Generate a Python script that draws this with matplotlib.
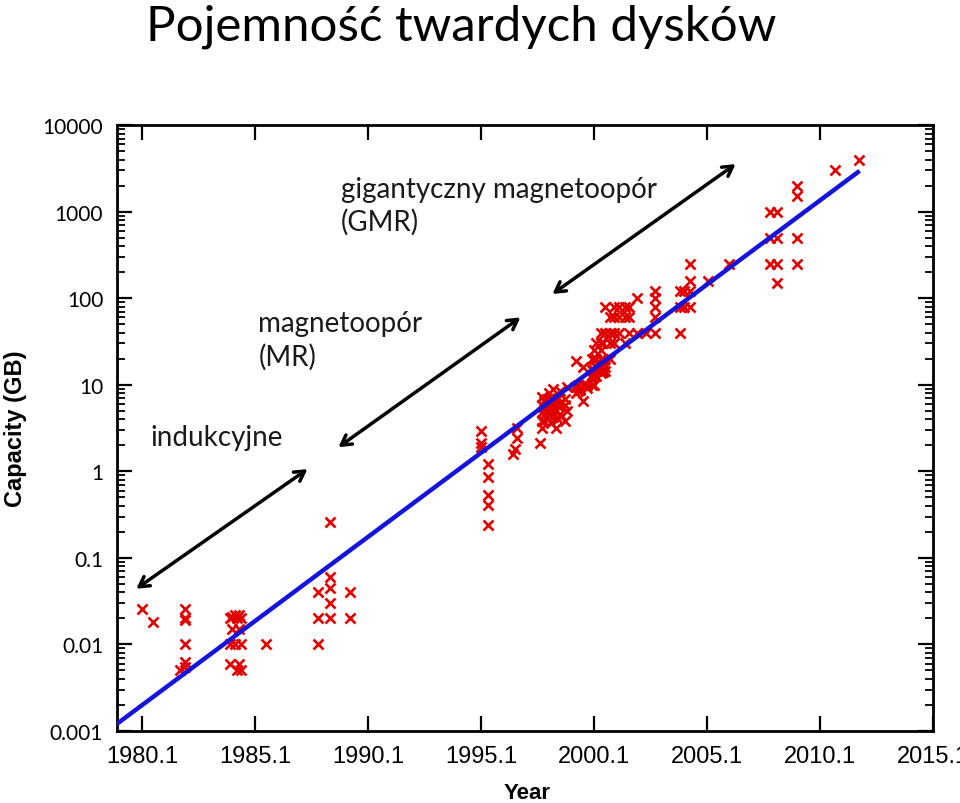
import numpy as np
import matplotlib
matplotlib.use("Agg")
from matplotlib import pyplot as plt

# hard disk capacity (GB) against year
years = [
    1980.1, 1980.6,
    1982.0, 1982.0, 1982.0, 1982.0, 1982.0, 1982.0, 1981.8,
    1984.0, 1984.0, 1984.0, 1984.1, 1984.1, 1984.2, 1984.2, 1984.3, 1984.3,
    1984.4, 1984.4, 1984.4, 1984.5, 1984.5, 1984.5,
    1985.6,
    1987.9, 1987.9, 1987.9,
    1988.4, 1988.4, 1988.4, 1988.4, 1988.4,
    1989.3, 1989.3,
    1995.1, 1995.1, 1995.1,
    1995.4, 1995.4, 1995.4, 1995.4, 1995.4,
    1996.5, 1996.6, 1996.7, 1996.7, 1997.7,
    1997.8, 1997.8, 1997.8, 1997.8, 1997.8,
    1997.9, 1997.9, 1997.9, 1997.9,
    1998.0, 1998.0, 1998.0,
    1998.1, 1998.1, 1998.1,
    1998.2, 1998.2, 1998.2,
    1998.3, 1998.3, 1998.3,
    1998.4, 1998.4, 1998.4,
    1998.5, 1998.5, 1998.5,
    1998.6, 1998.6, 1998.6,
    1998.8, 1998.8, 1998.8,
    1998.9, 1998.9,
    1999.3, 1999.3, 1999.3,
    1999.4, 1999.4,
    1999.5, 1999.5,
    1999.6, 1999.6, 1999.6,
    1999.8, 1999.8,
    2000.0, 2000.0, 2000.0, 2000.0, 2000.0,
    2000.1, 2000.1, 2000.1, 2000.1,
    2000.2, 2000.2, 2000.2, 2000.2,
    2000.4, 2000.4, 2000.4, 2000.4, 2000.4, 2000.4,
    2000.5, 2000.5, 2000.5,
    2000.6, 2000.6, 2000.6, 2000.6,
    2000.8, 2000.8, 2000.8, 2000.8,
    2001.0, 2001.0, 2001.0, 2001.0,
    2001.2, 2001.2, 2001.2,
    2001.45, 2001.45, 2001.45,
    2001.65, 2001.65, 2001.65,
    2002.0, 2002.0, 2002.4,
    2002.8, 2002.8, 2002.8, 2002.8, 2002.8,
    2003.9, 2003.9, 2003.9,
    2004.1, 2004.1,
    2004.35, 2004.35, 2004.35, 2004.35,
    2005.15, 2006.05,
    2007.9, 2007.9, 2007.9,
    2008.2, 2008.2, 2008.2, 2008.2,
    2009.1, 2009.1, 2009.1, 2009.1,
    2010.75, 2011.8,
]
capacity = [
    0.026, 0.018,
    0.026, 0.020, 0.019, 0.010, 0.0063, 0.0055, 0.005,
    0.020, 0.010, 0.006, 0.021, 0.015, 0.022, 0.010, 0.020, 0.005,
    0.022, 0.006, 0.015, 0.010, 0.005, 0.020,
    0.010,
    0.040, 0.020, 0.010,
    0.26, 0.060, 0.045, 0.030, 0.020,
    0.040, 0.020,
    2.9, 2.1, 1.9,
    1.2, 0.85, 0.53, 0.41, 0.24,
    1.6, 1.8, 2.4, 3.2, 2.1,
    3.2, 3.8, 4.8, 5.8, 7.2,
    3.8, 4.5, 5.5, 6.5,
    6.8, 4.0, 5.0,
    5.8, 8.1, 4.5,
    6.8, 5.2, 3.6,
    5.8, 8.9, 4.2,
    3.2, 6.8, 5.0,
    5.8, 7.0, 4.0,
    6.2, 4.6, 8.5,
    5.8, 6.8, 3.8,
    5.0, 9.5,
    8.0, 9.5, 19,
    8.5, 10,
    8.6, 9.0,
    6.5, 10, 16,
    10, 9.2,
    10, 12, 13, 15, 20,
    10, 15, 20, 25,
    12.5, 16, 20, 30,
    13.8, 16, 20, 25, 30, 40,
    14, 20, 30,
    14.4, 16, 40, 80,
    20, 30, 40, 60,
    30, 40, 60, 80,
    40, 60, 80,
    60, 80, 30,
    60, 80, 40,
    40, 100, 40,
    120, 100, 80, 60, 40,
    40, 120, 80,
    120, 80,
    250, 160, 120, 80,
    160, 250,
    1000, 500, 250,
    1000, 500, 250, 150,
    2000, 1500, 500, 250,
    3000, 4000,
]

# fitted trend line (two ends)
fit_years = [1979.05, 2011.77]
fit_capacity = [0.00124, 2860]

xticks = [1980.1, 1985.1, 1990.1, 1995.1, 2000.1, 2005.1, 2010.1, 2015.1]
yticks = [0.001, 0.01, 0.1, 1, 10, 100, 1000, 10000]
ylabels = ["0.001", "0.01", "0.1", "1", "10", "100", "1000", "10000"]

fig = plt.figure(figsize=(9.6, 8.04), dpi=100)
ax = fig.add_axes([0.122, 0.0896, 0.85, 0.7535])

ax.plot(years, capacity, linestyle="none", marker="x", color="#e00000",
        markersize=6.5, markeredgewidth=1.9, zorder=3)
ax.plot(fit_years, fit_capacity, color="#1414dc", linewidth=3.2, zorder=4)

ax.set_yscale("log")
ax.set_xlim(1979.0, 2015.1)
ax.set_ylim(0.001, 10000)

ax.set_xticks(xticks)
ax.set_xticklabels(["%.1f" % t for t in xticks],
                   family=["Liberation Sans Narrow", "Liberation Sans"],
                   fontsize=17)
ax.set_yticks(yticks)
ax.set_yticklabels(ylabels, family="Lato", fontsize=15)
ax.minorticks_off()
ax.yaxis.set_minor_locator(matplotlib.ticker.LogLocator(base=10, subs=np.arange(2, 10)))
ax.yaxis.set_minor_formatter(matplotlib.ticker.NullFormatter())

ax.tick_params(which="both", direction="in", top=True, right=True, colors="black")
ax.tick_params(which="major", length=11, width=1.6, pad=10)
ax.tick_params(which="minor", length=6, width=1.3)
for s in ax.spines.values():
    s.set_linewidth(2)

ax.set_xlabel("Year", family=["Liberation Sans Narrow", "Liberation Sans"],
              fontsize=16, fontweight="bold")
ax.xaxis.set_label_coords(0.502, -0.085)
ax.set_ylabel("Capacity (GB)", family="Liberation Sans", fontsize=17,
              fontweight="bold")
ax.yaxis.set_label_coords(-0.111, 0.5)

fig.text(0.48, 0.95, "Pojemność twardych dysków", family="Lato",
         fontsize=35.5, ha="center", va="baseline")

# annotations for read-head technologies
arrow = dict(arrowstyle="<->,head_length=0.7,head_width=0.4", color="black",
             linewidth=2.5, shrinkA=0, shrinkB=0)
ax.annotate("", xy=(1979.85, 0.044), xytext=(1987.42, 1.06), arrowprops=arrow)
ax.annotate("", xy=(1988.79, 1.9), xytext=(1996.84, 60), arrowprops=arrow)
ax.annotate("", xy=(1998.26, 112), xytext=(2006.36, 3550), arrowprops=arrow)

ax.text(1980.45, 3.5, "indukcyjne", family="Lato", fontsize=20,
        ha="left", va="top", color="#1a1a1a")
ax.text(1985.25, 73, "magnetoopór\n(MR)", family="Lato", fontsize=20,
        ha="left", va="top", color="#1a1a1a", linespacing=1.3)
ax.text(1988.9, 2600, "gigantyczny magnetoopór\n(GMR)", family="Lato",
        fontsize=20, ha="left", va="top", color="#1a1a1a", linespacing=1.3)

plt.savefig("out.png", dpi=100)
